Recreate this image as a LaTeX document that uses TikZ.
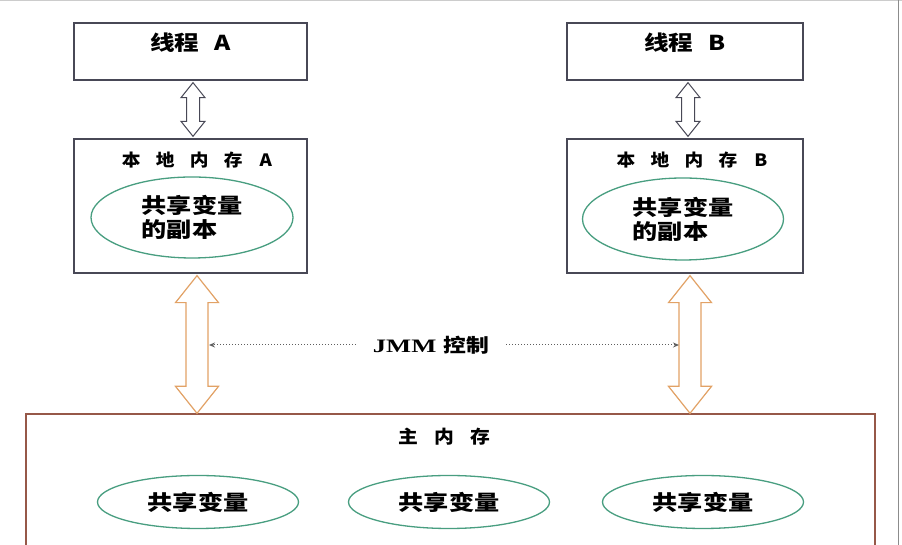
\documentclass[tikz,border=0pt]{standalone}
\usepackage{fontspec}
\usetikzlibrary{calc,arrows.meta,shapes.geometric}
\newfontfamily\cjk[FakeStretch=1.2]{Noto Sans CJK SC}
\newfontfamily\cjkwide[FakeStretch=1.1,LetterSpace=90]{Noto Sans CJK SC}
\newfontfamily\jmmfont[FakeStretch=1.4]{Liberation Serif}
\definecolor{boxgray}{RGB}{72,72,86}
\definecolor{mainred}{RGB}{150,88,72}
\definecolor{ellgreen}{RGB}{72,158,128}
\definecolor{arroworange}{RGB}{226,162,102}
\definecolor{dotgray}{RGB}{95,95,95}
\tikzset{
  membox/.style = {draw=boxgray, line width=1.3pt, minimum width=233pt},
  varell/.style = {ellipse, draw=ellgreen, line width=1.3pt, inner sep=0pt},
  vartext/.style = {font=\cjk\bfseries\fontsize{21}{24}\selectfont, align=left},
  titletext/.style = {font=\cjkwide\bfseries\fontsize{17}{20}\selectfont},
  jmmline/.style = {draw=dotgray, dotted, line width=1pt, -{Stealth[length=6pt,width=5pt]}}
}
% hollow double arrow between two points (top, bottom)
\newcommand{\fatarrow}[6]{%
  \draw[#1] let \p1 = (#2), \p2 = (#3) in
    (\x1,\y1) -- (\x1+#5,\y1-#6) -- (\x1+#4,\y1-#6) -- (\x1+#4,\y2+#6)
    -- (\x1+#5,\y2+#6) -- (\x1,\y2) -- (\x1-#5,\y2+#6) -- (\x1-#4,\y2+#6)
    -- (\x1-#4,\y1-#6) -- (\x1-#5,\y1-#6) -- cycle;}

\begin{document}
\begin{tikzpicture}[x=1pt, y=1pt]
\clip (0,0) rectangle (902,545);
\fill[white] (0,0) rectangle (902,545);
\draw[black!20, line width=1pt] (0,544) -- (902,544);
\draw[black!45, line width=1pt] (898,0) -- (898,545);

% threads
\node[membox, minimum height=57pt,
  label={[font=\cjk\bfseries\fontsize{20.5}{23}\selectfont, anchor=north, yshift=-7pt]north:{线程\hspace{0.75em}A}}]
  (tA) at (190.5,493.5) {};
\node[membox, minimum width=236pt, minimum height=57pt,
  label={[font=\cjk\bfseries\fontsize{20.5}{23}\selectfont, anchor=north, yshift=-7pt]north:{线程\hspace{0.75em}B}}]
  (tB) at (685,493.5) {};

% local memories
\node[membox, minimum height=134pt] (lA) at (190.5,339) {};
\node[membox, minimum width=236pt, minimum height=134pt] (lB) at (685,339) {};
\node[titletext] (lAtitle) at (197,385) {本地内存\hspace{1em}A};
\node[titletext] (lBtitle) at (692,385) {本地内存\hspace{1em}B};
\node[varell, minimum width=202pt, minimum height=81pt] (cA) at (192,327.5) {};
\node[vartext] at (cA) {共享变量\\的副本};
\node[varell, minimum width=201pt, minimum height=82pt] (cB) at (683,326) {};
\node[vartext] at (cB) {共享变量\\的副本};

% main memory
\node[draw=mainred, line width=1.3pt, minimum width=849pt, minimum height=161pt]
  (main) at (450.5,50.5) {};
\node[titletext, font=\cjkwide\bfseries\fontsize{18}{21}\selectfont] (mtitle) at (444,108) {主内存};
\foreach \x/\n in {198/v1, 449/v2, 703/v3}
  \node[varell, vartext, minimum width=201pt, minimum height=53pt] (\n) at (\x,43) {共享变量};

% thread <-> local
\fatarrow{draw=boxgray, line width=1pt, fill=white}{[xshift=2.5pt, yshift=-2pt]tA.south}{[xshift=2.5pt, yshift=2pt]lA.north}{6.5pt}{12pt}{15pt}
\fatarrow{draw=boxgray, line width=1pt, fill=white}{[xshift=3pt, yshift=-2pt]tB.south}{[xshift=3pt, yshift=2pt]lB.north}{6.5pt}{12pt}{15pt}

% local <-> main
\fatarrow{draw=arroworange, line width=1.2pt, fill=white}{[xshift=6.5pt, yshift=-2pt]lA.south}{[xshift=6.5pt]lA.south |- main.north}{11pt}{21.5pt}{27pt}
\fatarrow{draw=arroworange, line width=1.2pt, fill=white}{[xshift=5pt, yshift=-2pt]lB.south}{[xshift=5pt]lB.south |- main.north}{11pt}{21.5pt}{27pt}

% JMM
\node[inner xsep=17pt, font=\bfseries\fontsize{19}{22}\selectfont] (jmm) at (431,200) {{\jmmfont JMM} {\cjk 控制}};
\coordinate (jL) at (209,200);
\coordinate (jR) at (679,200);
\draw[jmmline] (jmm.west) -- (jL);
\draw[jmmline] (jmm.east) -- (jR);
\end{tikzpicture}
\end{document}
